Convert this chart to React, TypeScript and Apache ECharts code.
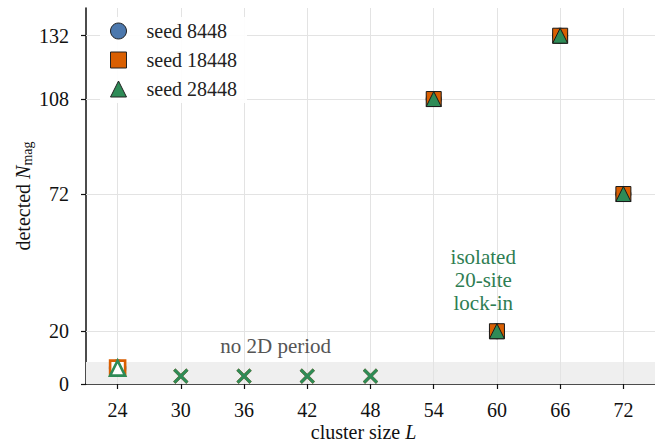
import React, { useEffect, useRef } from "react";
import * as echarts from "echarts";

const clusterSizes = [24, 30, 36, 42, 48, 54, 60, 66, 72];
const nMagSeed8448 = [6, 3, 3, 3, 3, 108, 20, 132, 72];
const nMagSeed18448 = [6, 3, 3, 3, 3, 108, 20, 132, 72];
const nMagSeed28448 = [6, 3, 3, 3, 3, 108, 20, 132, 72];
// "partial" = hollow marker, "none" = no 2D period (cross), "period" = filled marker
const outcome = ["partial", "none", "none", "none", "none", "period", "period", "period", "period"];
const yTicks = [0, 20, 72, 108, 132];
const seedNames = ["seed 8448", "seed 18448", "seed 28448"];
const seedSymbols = ["circle", "rect", "triangle"];
const seedColors = ["#4c78ad", "#d95f02", "#2e8b57"];
const noPeriodBand = [0, 8.3];

const FONT = "'Liberation Serif', serif";
const CROSS = "path://M0,0L10,10M0,10L10,0";

function buildSeries(idx: number, values: number[]) {
  const color = seedColors[idx];
  const data = clusterSizes.map((L, i) => {
    const kind = outcome[i];
    if (kind === "none") {
      return {
        value: [L, values[i]],
        symbol: CROSS,
        symbolSize: 13,
        itemStyle: { color: "rgba(0,0,0,0)", borderColor: color, borderWidth: 3 },
      };
    }
    if (kind === "partial") {
      return {
        value: [L, values[i]],
        symbolSize: 15,
        itemStyle: { color: "#ffffff", borderColor: color, borderWidth: 2.6 },
      };
    }
    return { value: [L, values[i]] };
  });
  return {
    type: "scatter",
    name: seedNames[idx],
    symbol: seedSymbols[idx],
    symbolSize: 15,
    z: 3 + idx,
    itemStyle: { color, borderColor: "#1a1a1a", borderWidth: 1, opacity: 1 },
    data,
  };
}

export default function App() {
  const ref = useRef<HTMLDivElement>(null);
  useEffect(() => {
    if (!ref.current) return;
    const chart = echarts.init(ref.current, undefined, { renderer: "svg" });
    const helper = {
      type: "scatter",
      name: "helper",
      data: [],
      z: 1,
      silent: true,
      markArea: {
        silent: true,
        itemStyle: { color: "#efefef" },
        data: [[{ yAxis: noPeriodBand[0] }, { yAxis: noPeriodBand[1] }]],
      },
      markLine: {
        silent: true,
        symbol: "none",
        z: 1,
        label: { show: false },
        lineStyle: { color: "#e3e3e3", width: 1, type: "solid" },
        data: [
          ...clusterSizes.map((v) => ({ xAxis: v })),
          ...yTicks.filter((v) => v > 0).map((v) => ({ yAxis: v })),
        ],
      },
      markPoint: {
        silent: true,
        symbol: "circle",
        symbolSize: 0,
        data: [
          {
            coord: [39, 14.4],
            label: {
              show: true,
              position: "inside",
              formatter: "no 2D period",
              color: "#555555",
              fontSize: 21,
              fontFamily: FONT,
            },
          },
          {
            coord: [58.7, 39.5],
            label: {
              show: true,
              position: "inside",
              formatter: "isolated\n20-site\nlock-in",
              color: "#2e7d52",
              fontSize: 21,
              lineHeight: 23,
              fontFamily: FONT,
            },
          },
        ],
      },
    };
    const option = {
      animation: false,
      backgroundColor: "#ffffff",
      textStyle: { fontFamily: FONT },
      grid: { left: 86, right: 0, top: 8, bottom: 59, containLabel: false, outerBoundsMode: "none" },
      legend: {
        z: 20,
        data: seedNames.map((name, i) => ({
          name,
          icon: seedSymbols[i],
          itemStyle: { color: seedColors[i], borderColor: "#222222", borderWidth: 1 },
        })),
        orient: "vertical",
        left: 100,
        top: 17,
        padding: [4, 10, 4, 10],
        backgroundColor: "rgba(255,255,255,0.9)",
        itemWidth: 16,
        itemHeight: 16,
        itemGap: 9,
        textStyle: { fontFamily: FONT, fontSize: 20, color: "#222", padding: [0, 0, 0, 15] },
      },
      xAxis: {
        type: "value",
        min: 21,
        max: 75,
        name: "cluster size {i|L}",
        nameLocation: "middle",
        nameGap: 37,
        nameMoveOverlap: false,
        nameTextStyle: {
          fontFamily: FONT,
          fontSize: 20,
          lineHeight: 22,
          color: "#111",
          padding: [0, 14, 0, 0],
          rich: { i: { fontFamily: FONT, fontSize: 20, lineHeight: 22, fontStyle: "italic", color: "#111" } },
        },
        axisLine: { show: true, onZero: false, lineStyle: { color: "#111", width: 1.5 } },
        axisTick: { show: true, length: 5, customValues: clusterSizes, lineStyle: { color: "#111", width: 1.2 } },
        axisLabel: { customValues: clusterSizes, fontFamily: FONT, fontSize: 20, color: "#111", margin: 16 },
        splitLine: { show: false },
      },
      yAxis: {
        type: "value",
        min: 0,
        max: 142.5,
        name: "detected {n|N}{s|mag}",
        nameLocation: "middle",
        nameGap: 52,
        nameMoveOverlap: false,
        nameTextStyle: {
          fontFamily: FONT,
          fontSize: 20,
          color: "#111",
          rich: {
            n: { fontFamily: FONT, fontSize: 20, fontStyle: "italic", color: "#111" },
            s: { fontFamily: FONT, fontSize: 14, color: "#111", verticalAlign: "bottom", padding: [8, 0, 0, 0] },
          },
        },
        axisLine: { show: true, onZero: false, lineStyle: { color: "#111", width: 1.5 } },
        axisTick: { show: true, length: 5, customValues: yTicks, lineStyle: { color: "#111", width: 1.2 } },
        axisLabel: { customValues: yTicks, fontFamily: FONT, fontSize: 20, color: "#111", margin: 17 },
        splitLine: { show: false },
      },
      series: [
        helper,
        buildSeries(0, nMagSeed8448),
        buildSeries(1, nMagSeed18448),
        buildSeries(2, nMagSeed28448),
      ],
    };
    chart.setOption(option as any);
    return () => chart.dispose();
  }, []);
  return (
    <div
      ref={ref}
      style={{ position: "fixed", left: 0, top: 0, width: 655, height: 443 }}
    />
  );
}
